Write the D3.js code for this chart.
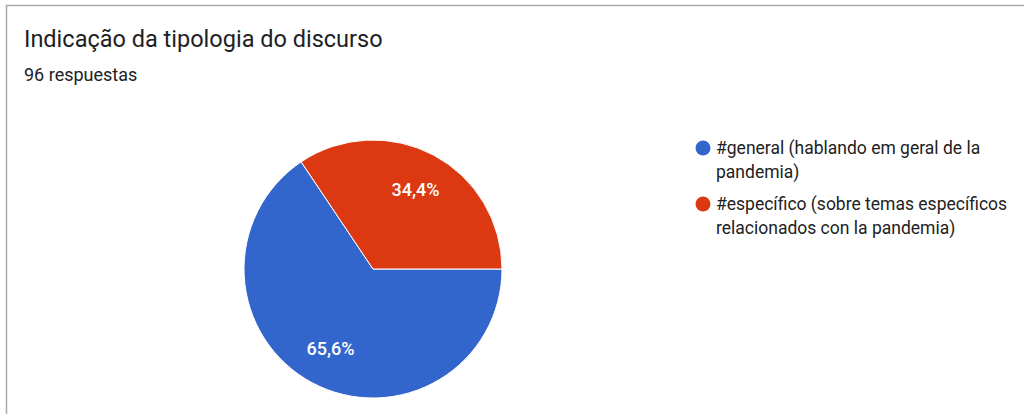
<!DOCTYPE html>
<html>
<head>
<meta charset="utf-8">
<script src="https://cdn.jsdelivr.net/npm/d3@7"></script>
<style>
  html, body { margin: 0; padding: 0; background: #fff; }
  svg { display: block; }
  text { font-family: Roboto, "Noto Sans", Arial, sans-serif; }
</style>
</head>
<body>
<svg id="chart" width="1024" height="414"></svg>
<script>
// Survey answers: discourse type
const categories = ["general", "especifico"];
const legendLines = [
  ["#general (hablando em geral de la", "pandemia)"],
  ["#específico (sobre temas específicos", "relacionados con la pandemia)"]
];
const values = [65.6, 34.4];
const colors = ["#3366cc", "#dc3912"];
const title = "Indicação da tipologia do discurso";
const subtitle = "96 respuestas";

const svg = d3.select("#chart");

// card frame (top and left edges visible)
svg.append("path")
  .attr("d", "M6.5,414 V5.5 H1024")
  .attr("fill", "none")
  .attr("stroke", "#aaaaaa")
  .attr("stroke-width", 1.5);

svg.append("text")
  .attr("x", 24).attr("y", 47)
  .attr("font-size", 23.5)
  .attr("fill", "#202124")
  .text(title);

svg.append("text")
  .attr("x", 24).attr("y", 81)
  .attr("font-size", 18)
  .attr("fill", "#202124")
  .text(subtitle);

// pie
const cx = 373, cy = 269, r = 129;
const color = d3.scaleOrdinal().domain(categories).range(colors);
const pie = d3.pie()
  .sort(null)
  .value(d => d.value)
  .startAngle(Math.PI / 2)
  .endAngle(Math.PI / 2 + 2 * Math.PI);
const data = categories.map((c, i) => ({ key: c, value: values[i] }));
const arcs = pie(data);
const arc = d3.arc().innerRadius(0).outerRadius(r);
const labelArc = d3.arc().innerRadius(r * 0.7).outerRadius(r * 0.7);

const g = svg.append("g").attr("transform", `translate(${cx},${cy})`);
g.selectAll("path.slice")
  .data(arcs)
  .join("path")
  .attr("class", "slice")
  .attr("d", arc)
  .attr("fill", d => color(d.data.key))
  .attr("stroke", "#ffffff")
  .attr("stroke-width", 1);

const fmt = v => d3.format(".1f")(v).replace(".", ",") + "%";
g.selectAll("text.pct")
  .data(arcs)
  .join("text")
  .attr("class", "pct")
  .attr("transform", d => `translate(${labelArc.centroid(d)})`)
  .attr("text-anchor", "middle")
  .attr("dy", "0.35em")
  .attr("font-size", 18)
  .attr("font-weight", 500)
  .attr("fill", "#ffffff")
  .text(d => fmt(d.data.value));

// legend
const legend = svg.append("g").attr("transform", "translate(703,148)");
const item = legend.selectAll("g.item")
  .data(categories)
  .join("g")
  .attr("class", "item")
  .attr("transform", (d, i) => `translate(0,${i * 56})`);
item.append("circle")
  .attr("r", 7.5)
  .attr("fill", d => color(d));
item.append("text")
  .attr("x", 13)
  .attr("y", 6)
  .attr("font-size", 17.5)
  .attr("fill", "#222222")
  .selectAll("tspan")
  .data((d, i) => legendLines[i])
  .join("tspan")
  .attr("x", 13)
  .attr("dy", (d, j) => j === 0 ? 0 : 23.5)
  .text(d => d);
</script>
</body>
</html>
